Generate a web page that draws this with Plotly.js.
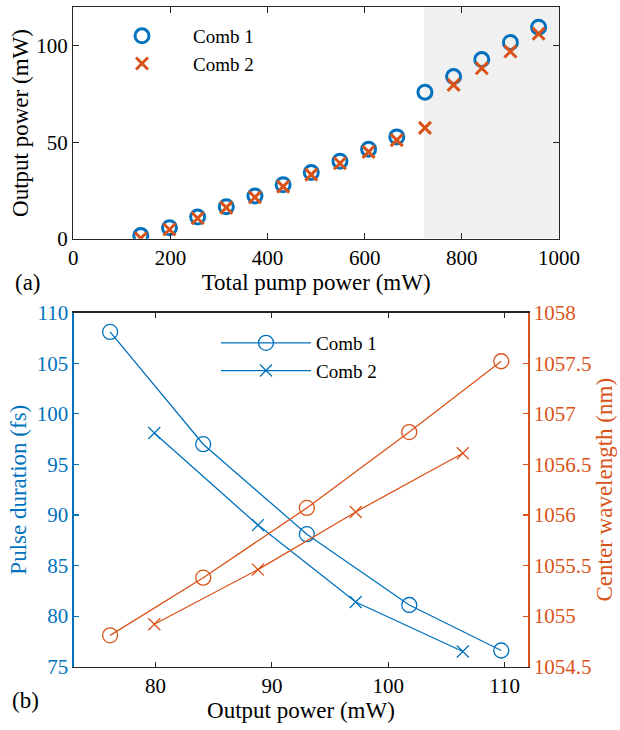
<!DOCTYPE html>
<html>
<head>
<meta charset="utf-8">
<script src="https://cdn.plot.ly/plotly-3.0.1.min.js"></script>
<style>html,body{margin:0;padding:0;background:#fff;}#chart{width:620px;height:730px;}</style>
</head>
<body>
<div id="chart"></div>
<script>
// ---- Panel (a) data ----
const pumpPower = [139, 198, 256, 315, 374, 432, 490, 549, 608, 666, 724, 783, 841, 900, 958];
const outComb1 = [1.6, 5.7, 11.2, 16.6, 22.2, 28.0, 34.3, 40.2, 46.4, 52.8, 76.0, 84.1, 92.9, 101.8, 109.7];
const outComb2 = [0.2, 4.8, 10.6, 16.1, 21.5, 27.0, 33.2, 39.1, 45.0, 51.1, 57.5, 79.8, 88.4, 97.1, 106.3];
const shadeStart = 722;
const shadeEnd = 1000;

// ---- Panel (b) data ----
const outPow1 = [76.1, 84.1, 93.0, 101.8, 109.7];
const pulse1 = [108.1, 97.0, 88.1, 81.1, 76.6];
const wl1 = [1054.81, 1055.38, 1056.07, 1056.82, 1057.52];
const outPow2 = [79.9, 88.8, 97.2, 106.4];
const pulse2 = [98.1, 89.0, 81.4, 76.5];
const wl2 = [1054.92, 1055.46, 1056.03, 1056.61];

const seriesNames = ['Comb 1', 'Comb 2'];
const xTicksA = [0, 200, 400, 600, 800, 1000];
const yTicksA = [0, 50, 100];
const xTicksB = [80, 90, 100, 110];
const yTicksB = [75, 80, 85, 90, 95, 100, 105, 110];
const y2TicksB = [1054.5, 1055, 1055.5, 1056, 1056.5, 1057, 1057.5, 1058];

const BLUE = '#0072BD';
const ORANGE = '#D95319';
const AX = '#262626';
const FONT = "'Liberation Serif', 'DejaVu Serif', serif";
const W = 620, H = 730;

const traces = [
  {x: pumpPower, y: outComb1, name: seriesNames[0], type: 'scatter', mode: 'markers',
   xaxis: 'x', yaxis: 'y', legend: 'legend',
   marker: {symbol: 'circle-open', size: 14, color: BLUE, line: {width: 3, color: BLUE}}},
  {x: pumpPower, y: outComb2, name: seriesNames[1], type: 'scatter', mode: 'markers',
   xaxis: 'x', yaxis: 'y', legend: 'legend',
   marker: {symbol: 'x-thin-open', size: 12, color: ORANGE, line: {width: 3, color: ORANGE}}},
  {x: outPow1, y: pulse1, name: seriesNames[0], type: 'scatter', mode: 'lines+markers',
   xaxis: 'x2', yaxis: 'y2', legend: 'legend2',
   line: {color: BLUE, width: 1.3},
   marker: {symbol: 'circle-open', size: 15, color: BLUE, line: {width: 1.3, color: BLUE}}},
  {x: outPow2, y: pulse2, name: seriesNames[1], type: 'scatter', mode: 'lines+markers',
   xaxis: 'x2', yaxis: 'y2', legend: 'legend2',
   line: {color: BLUE, width: 1.3},
   marker: {symbol: 'x-thin-open', size: 12, color: BLUE, line: {width: 1.3, color: BLUE}}},
  {x: outPow1, y: wl1, name: seriesNames[0], type: 'scatter', mode: 'lines+markers',
   xaxis: 'x2', yaxis: 'y3', showlegend: false,
   line: {color: ORANGE, width: 1.3},
   marker: {symbol: 'circle-open', size: 15, color: ORANGE, line: {width: 1.3, color: ORANGE}}},
  {x: outPow2, y: wl2, name: seriesNames[1], type: 'scatter', mode: 'lines+markers',
   xaxis: 'x2', yaxis: 'y3', showlegend: false,
   line: {color: ORANGE, width: 1.3},
   marker: {symbol: 'x-thin-open', size: 12, color: ORANGE, line: {width: 1.3, color: ORANGE}}}
];

const tickFont = {family: FONT, size: 21, color: '#000'};
const titleFont = {family: FONT, size: 23, color: '#000'};

const baseAxis = {
  showgrid: false, zeroline: false, showline: true, linecolor: AX, linewidth: 1.3,
  ticks: 'inside', ticklen: 6, tickwidth: 1.1, tickcolor: AX,
  tickfont: tickFont, automargin: false, fixedrange: true
};

const layout = {
  width: W, height: H,
  margin: {l: 0, r: 0, t: 0, b: 0},
  paper_bgcolor: '#fff', plot_bgcolor: 'rgba(0,0,0,0)',
  font: {family: FONT},
  xaxis: Object.assign({}, baseAxis, {
    domain: [73.3 / W, 559 / W], range: [0, 1000], tickvals: xTicksA, mirror: 'ticks',
    anchor: 'y',
    title: {text: 'Total pump power (mW)', font: titleFont, standoff: 4}
  }),
  yaxis: Object.assign({}, baseAxis, {
    domain: [(H - 238.7) / H, (H - 7.3) / H], range: [0, 120], tickvals: yTicksA, mirror: 'ticks',
    anchor: 'x',
    title: {text: 'Output power (mW)', font: titleFont, standoff: 1}
  }),
  xaxis2: Object.assign({}, baseAxis, {
    domain: [74 / W, 528 / W], range: [73, 112], tickvals: xTicksB, mirror: 'ticks',
    anchor: 'y2', ticklen: 5,
    title: {text: 'Output power (mW)', font: titleFont, standoff: 4}
  }),
  yaxis2: Object.assign({}, baseAxis, {
    domain: [(H - 666.7) / H, (H - 312.7) / H], range: [75, 110], tickvals: yTicksB,
    anchor: 'x2', linecolor: BLUE, tickcolor: BLUE, linewidth: 1.6, ticklen: 5,
    tickfont: {family: FONT, size: 21, color: BLUE},
    title: {text: 'Pulse duration (fs)', font: {family: FONT, size: 23, color: BLUE}, standoff: 3}
  }),
  yaxis3: Object.assign({}, baseAxis, {
    overlaying: 'y2', side: 'right', anchor: 'x2', range: [1054.5, 1058], tickvals: y2TicksB,
    ticktext: y2TicksB.map(v => String(v)),
    linecolor: ORANGE, tickcolor: ORANGE, linewidth: 1.6, ticklen: 5,
    tickfont: {family: FONT, size: 21, color: ORANGE},
    title: {text: 'Center wavelength (nm)', font: {family: FONT, size: 23, color: ORANGE}, standoff: 1}
  }),
  shapes: [{
    type: 'rect', xref: 'x', yref: 'y', x0: shadeStart, x1: shadeEnd, y0: 0, y1: 120,
    fillcolor: '#F0F0F0', line: {width: 0}, layer: 'below'
  }],
  legend: {
    x: 91 / W, y: (H - 17) / H, xanchor: 'left', yanchor: 'top',
    bgcolor: 'rgba(0,0,0,0)', borderwidth: 0, itemwidth: 92,
    font: {family: FONT, size: 19, color: '#000'}, tracegroupgap: 0
  },
  legend2: {
    x: 216 / W, y: (H - 324) / H, xanchor: 'left', yanchor: 'top',
    bgcolor: 'rgba(0,0,0,0)', borderwidth: 0, itemwidth: 90,
    font: {family: FONT, size: 19, color: '#000'}, tracegroupgap: 0
  },
  annotations: [
    {text: '(a)', xref: 'paper', yref: 'paper', x: 28 / W, y: (H - 282) / H,
     xanchor: 'center', yanchor: 'middle', showarrow: false, font: {family: FONT, size: 23, color: '#000'}},
    {text: '(b)', xref: 'paper', yref: 'paper', x: 25 / W, y: (H - 700) / H,
     xanchor: 'center', yanchor: 'middle', showarrow: false, font: {family: FONT, size: 23, color: '#000'}}
  ]
};

Plotly.newPlot('chart', traces, layout, {displayModeBar: false, staticPlot: true});
</script>
</body>
</html>
